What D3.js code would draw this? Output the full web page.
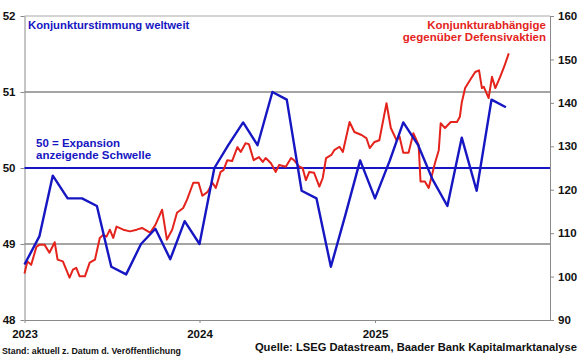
<!DOCTYPE html>
<html>
<head>
<meta charset="utf-8">
<script src="https://cdn.jsdelivr.net/npm/d3@7"></script>
<style>
  body { margin: 0; background: #fff; }
  svg { display: block; font-family: "Liberation Sans", Arial, sans-serif; }
  .axis text { font-weight: bold; fill: #111; }
  .axis path, .axis line { stroke: #8a8a8a; }
</style>
</head>
<body>
<svg id="chart"></svg>
<script>
// Global PMI (monthly, left axis)
var pmiMonths = ['2023-01','2023-02','2023-03','2023-04','2023-05','2023-06','2023-07','2023-08','2023-09','2023-10','2023-11','2023-12',
                 '2024-01','2024-02','2024-03','2024-04','2024-05','2024-06','2024-07','2024-08','2024-09','2024-10','2024-11','2024-12',
                 '2025-01','2025-02','2025-03','2025-04','2025-05','2025-06','2025-07','2025-08','2025-09','2025-10'];
var pmiValues = [48.73, 49.1, 49.9, 49.6, 49.6, 49.5, 48.7, 48.6, 49.0, 49.2, 48.8, 49.3,
                 49.0, 50.0, 50.3, 50.6, 50.3, 51.0, 50.9, 49.7, 49.6, 48.7, 49.4, 50.1,
                 49.6, 50.1, 50.6, 50.3, 49.85, 49.5, 50.4, 49.7, 50.9, 50.8];

// Cyclicals vs defensives (weekly, right axis)
var ratioDates = ['2023-01-01','2023-01-07','2023-01-15','2023-01-26','2023-02-01','2023-02-12','2023-02-22','2023-03-05','2023-03-11','2023-03-22',
  '2023-04-05','2023-04-12','2023-04-19','2023-04-26','2023-05-07','2023-05-17','2023-05-28','2023-06-07','2023-06-14','2023-06-21',
  '2023-06-28','2023-07-05','2023-07-12','2023-07-26','2023-08-09','2023-08-23','2023-09-03','2023-09-20','2023-10-01','2023-10-15',
  '2023-10-25','2023-11-05','2023-11-15','2023-11-28','2023-12-06','2023-12-19','2023-12-30','2024-01-07','2024-01-18','2024-01-28',
  '2024-02-04','2024-02-14','2024-02-20','2024-02-28','2024-03-09','2024-03-20','2024-03-27','2024-04-06','2024-04-13','2024-04-23',
  '2024-05-04','2024-05-12','2024-05-18','2024-05-29','2024-06-08','2024-06-15','2024-06-29','2024-07-10','2024-07-16','2024-07-27',
  '2024-08-03','2024-08-10','2024-08-17','2024-08-27','2024-09-07','2024-09-14','2024-09-21','2024-10-02','2024-10-08','2024-10-19',
  '2024-10-26','2024-11-09','2024-11-19','2024-12-04','2024-12-14','2024-12-21','2024-12-31','2025-01-10','2025-01-25','2025-02-03',
  '2025-02-15','2025-02-21','2025-03-01','2025-03-12','2025-03-22','2025-04-02','2025-04-06','2025-04-15','2025-04-23','2025-05-06',
  '2025-05-14','2025-05-18','2025-05-27','2025-06-08','2025-06-21','2025-06-27','2025-07-01','2025-07-08','2025-07-18','2025-07-29',
  '2025-08-06','2025-08-12','2025-08-16','2025-08-26','2025-09-02','2025-09-09','2025-09-19','2025-09-27','2025-10-07'];
var ratioValues = [100.7, 103.5, 102.7, 106.9, 107.3, 107.3, 105.5, 107.9, 103.9, 103.5,
  99.75, 101.6, 102.0, 100.05, 100.05, 103.2, 103.9, 108.9, 109.6, 109.2,
  110.8, 108.9, 111.5, 110.8, 110.4, 110.8, 111.2, 110.1, 111.9, 115.4,
  108.5, 110.8, 114.7, 115.8, 117.7, 121.6, 121.6, 118.6, 119.5, 121.6,
  120.4, 124.1, 124.5, 126.8, 126.6, 129.8, 128.7, 130.7, 130.5, 126.8,
  127.5, 126.4, 127.3, 126.1, 124.1, 125.7, 125.3, 127.3, 126.8, 125.3,
  125.0, 122.2, 124.1, 123.9, 120.7, 122.7, 127.3, 128.0, 129.1, 129.9,
  128.7, 135.6, 133.3, 132.6, 131.9, 129.6, 131.0, 131.4, 139.9, 134.2,
  131.4, 132.3, 128.5, 128.5, 133.0, 130.3, 121.9, 121.9, 120.4, 126.1,
  129.1, 135.3, 134.2, 135.6, 135.6, 136.8, 140.1, 143.4, 145.2, 147.1,
  147.5, 143.4, 143.7, 141.1, 146.0, 143.4, 146.0, 148.2, 151.4];

var leftTicks = [48, 49, 50, 51, 52];
var rightTicks = [90, 100, 110, 120, 130, 140, 150, 160];
var yearTicks = ['2023', '2024', '2025'];

var width = 580, height = 359;
var plotLeft = 24.5, plotRight = 550, plotTop = 16, plotBottom = 320;
var blue = '#1616c2', red = '#e4231c';

var parseMonth = d3.timeParse('%Y-%m');
var parseDay = d3.timeParse('%Y-%m-%d');
var parseYear = d3.timeParse('%Y');

var svg = d3.select('#chart')
    .attr('width', width)
    .attr('height', height);

var x = d3.scaleTime()
    .domain([parseYear('2023'), parseYear('2026')])
    .range([plotLeft, plotRight]);

var yL = d3.scaleLinear().domain([48, 52]).range([plotBottom, plotTop]);
var yR = d3.scaleLinear().domain([90, 160]).range([plotBottom, plotTop]);

// grid lines
svg.append('line')
    .attr('x1', plotLeft).attr('x2', plotRight)
    .attr('y1', yL(52)).attr('y2', yL(52))
    .attr('stroke', '#a8a8a8').attr('stroke-width', 1);

svg.selectAll('.grid')
    .data([49, 51])
    .enter()
    .append('line')
    .attr('x1', plotLeft).attr('x2', plotRight)
    .attr('y1', d => yL(d)).attr('y2', d => yL(d))
    .attr('stroke', '#4a4a4a').attr('stroke-width', 1);

// axes
svg.append('g')
    .attr('class', 'axis')
    .attr('transform', 'translate(' + plotLeft + ',0)')
    .call(d3.axisLeft(yL).tickValues(leftTicks).tickFormat(d3.format('d'))
        .tickSize(4).tickSizeOuter(0).tickPadding(5))
    .selectAll('text').style('font-size', '11.5px');

svg.append('g')
    .attr('class', 'axis')
    .attr('transform', 'translate(' + plotRight + ',0)')
    .call(d3.axisRight(yR).tickValues(rightTicks).tickFormat(d3.format('d'))
        .tickSize(4).tickSizeOuter(0).tickPadding(4))
    .selectAll('text').style('font-size', '11.5px');

svg.append('g')
    .attr('class', 'axis')
    .attr('transform', 'translate(0,' + plotBottom + ')')
    .call(d3.axisBottom(x).tickValues(yearTicks.map(parseYear)).tickSize(3).tickSizeOuter(0).tickPadding(7)
        .tickFormat(d3.timeFormat('%Y')))
    .selectAll('text').style('font-size', '11.5px');

// 50 threshold
svg.append('line')
    .attr('x1', plotLeft).attr('x2', plotRight)
    .attr('y1', yL(50)).attr('y2', yL(50))
    .attr('stroke', blue).attr('stroke-width', 2.2);

// series
var ratioLine = d3.line()
    .x((d, i) => x(parseDay(ratioDates[i])))
    .y(d => yR(d));

svg.append('path')
    .datum(ratioValues)
    .attr('d', ratioLine)
    .attr('fill', 'none')
    .attr('stroke', red)
    .attr('stroke-width', 2)
    .attr('stroke-linejoin', 'round');

var pmiLine = d3.line()
    .x((d, i) => x(parseMonth(pmiMonths[i])))
    .y(d => yL(d));

svg.append('path')
    .datum(pmiValues)
    .attr('d', pmiLine)
    .attr('fill', 'none')
    .attr('stroke', blue)
    .attr('stroke-width', 2.4)
    .attr('stroke-linejoin', 'round');

// labels
function label(txt, px, py, color, size, anchor) {
    svg.append('text')
        .attr('x', px).attr('y', py)
        .attr('fill', color)
        .attr('text-anchor', anchor || 'start')
        .style('font-size', size + 'px')
        .style('font-weight', 'bold')
        .text(txt);
}

label('Konjunkturstimmung weltweit', 28, 28.5, blue, 11.3);
label('Konjunkturabhängige', 546, 28.5, red, 11.5, 'end');
label('gegenüber Defensivaktien', 546, 41, red, 11.5, 'end');
label('50 = Expansion', 36, 146.5, blue, 11.5);
label('anzeigende Schwelle', 36, 158.5, blue, 11.5);
label('Stand: aktuell z. Datum d. Veröffentlichung', 2, 354, '#111', 8.8);
label('Quelle: LSEG Datastream, Baader Bank Kapitalmarktanalyse', 577, 350.5, '#111', 11.2, 'end');
</script>
</body>
</html>
